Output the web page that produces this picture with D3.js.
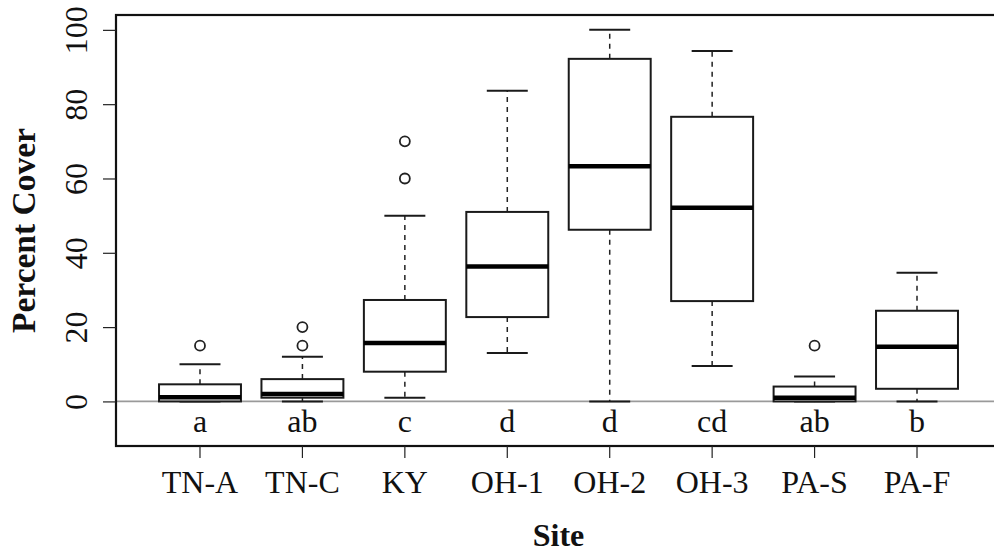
<!DOCTYPE html>
<html>
<head>
<meta charset="utf-8">
<script src="https://cdn.jsdelivr.net/npm/d3@7"></script>
<style>
  html, body { margin: 0; padding: 0; background: #fff; }
  svg { display: block; }
  text { font-family: "Liberation Serif", "Times New Roman", serif; fill: #111; }
</style>
</head>
<body>
<div id="chart"></div>
<script>
// sites and the significance letters under each box
const sites = ["TN-A", "TN-C", "KY", "OH-1", "OH-2", "OH-3", "PA-S", "PA-F"];
const letters = ["a", "ab", "c", "d", "d", "cd", "ab", "b"];

// box statistics (percent cover)
const whiskerLow  = [0, 0, 1, 13, 0, 9.5, 0, 0];
const quart1      = [0, 1, 8, 22.7, 46.2, 27, 0, 3.4];
const medians     = [1.1, 2, 15.7, 36.3, 63.3, 52.1, 1, 14.7];
const quart3      = [4.6, 6, 27.3, 51, 92.2, 76.6, 4, 24.4];
const whiskerHigh = [10, 12, 50, 83.6, 100, 94.3, 6.7, 34.6];
const outliers    = [[15], [15, 20], [60, 70], [], [], [], [15], []];

const yTicks = [0, 20, 40, 60, 80, 100];

const W = 994, H = 552;
const plot = { left: 116, top: 15, right: 1001, bottom: 446 };

const data = sites.map((s, i) => ({
    site: s,
    letter: letters[i],
    lo: whiskerLow[i],
    q1: quart1[i],
    med: medians[i],
    q3: quart3[i],
    hi: whiskerHigh[i],
    out: outliers[i]
}));

const svg = d3.select("#chart").append("svg")
    .attr("width", W)
    .attr("height", H);

const x = d3.scaleBand()
    .domain(sites)
    .range([plot.left, plot.right])
    .paddingInner(0.2)
    .paddingOuter(0.42);

const y = d3.scaleLinear()
    .domain([-12, 104])
    .range([plot.bottom, plot.top]);

const cx = d => x(d.site) + x.bandwidth() / 2;
const bw = x.bandwidth();

// zero reference line
svg.append("line")
    .attr("x1", plot.left).attr("x2", plot.right)
    .attr("y1", y(0)).attr("y2", y(0))
    .attr("stroke", "#9a9a9a")
    .attr("stroke-width", 1.6);

const g = svg.append("g").attr("class", "boxes");

const box = g.selectAll(".box")
    .data(data)
    .enter()
    .append("g")
    .attr("class", "box");

// whiskers (dashed)
box.append("line")
    .attr("x1", cx).attr("x2", cx)
    .attr("y1", d => y(d.q3)).attr("y2", d => y(d.hi))
    .attr("stroke", "#222")
    .attr("stroke-width", 1.5)
    .attr("stroke-dasharray", "5,5");
box.append("line")
    .attr("x1", cx).attr("x2", cx)
    .attr("y1", d => y(d.q1)).attr("y2", d => y(d.lo))
    .attr("stroke", "#222")
    .attr("stroke-width", 1.5)
    .attr("stroke-dasharray", "5,5");

// staples
box.selectAll(".staple")
    .data(d => [d.lo, d.hi].map(v => ({ c: cx(d), v })))
    .enter()
    .append("line")
    .attr("class", "staple")
    .attr("x1", s => s.c - bw / 4).attr("x2", s => s.c + bw / 4)
    .attr("y1", s => y(s.v)).attr("y2", s => y(s.v))
    .attr("stroke", "#1a1a1a")
    .attr("stroke-width", 2);

// boxes
box.append("rect")
    .attr("x", d => x(d.site))
    .attr("width", bw)
    .attr("y", d => y(d.q3))
    .attr("height", d => Math.max(0.5, y(d.q1) - y(d.q3)))
    .attr("fill", "#fff")
    .attr("stroke", "#1a1a1a")
    .attr("stroke-width", 2);

// medians
box.append("line")
    .attr("x1", d => x(d.site)).attr("x2", d => x(d.site) + bw)
    .attr("y1", d => y(d.med)).attr("y2", d => y(d.med))
    .attr("stroke", "#000")
    .attr("stroke-width", 4.5);

// outliers
box.selectAll(".outlier")
    .data(d => d.out.map(v => ({ c: cx(d), v })))
    .enter()
    .append("circle")
    .attr("class", "outlier")
    .attr("cx", o => o.c)
    .attr("cy", o => y(o.v))
    .attr("r", 5)
    .attr("fill", "none")
    .attr("stroke", "#222")
    .attr("stroke-width", 1.8);

// letters
g.selectAll(".letter")
    .data(data)
    .enter()
    .append("text")
    .attr("class", "letter")
    .attr("x", cx)
    .attr("y", 432)
    .attr("text-anchor", "middle")
    .style("font-size", "32px")
    .text(d => d.letter);

// frame
svg.append("rect")
    .attr("x", plot.left)
    .attr("y", plot.top)
    .attr("width", plot.right - plot.left)
    .attr("height", plot.bottom - plot.top)
    .attr("fill", "none")
    .attr("stroke", "#111")
    .attr("stroke-width", 2.2);

// x axis
const xAxis = svg.append("g")
    .attr("transform", `translate(0,${plot.bottom})`)
    .call(d3.axisBottom(x).tickSize(12).tickPadding(12));
xAxis.select(".domain").remove();
xAxis.selectAll("line").attr("stroke", "#222").attr("stroke-width", 1.2);
xAxis.selectAll("text")
    .style("font-size", "32px")
    .style("font-family", "'Liberation Serif', 'Times New Roman', serif")
    .attr("fill", "#111");

// y axis, labels parallel to the axis
const yAxis = svg.append("g")
    .attr("transform", `translate(${plot.left},0)`)
    .call(d3.axisLeft(y).tickValues(yTicks).tickSize(13));
yAxis.select(".domain").remove();
yAxis.selectAll("line").attr("stroke", "#222").attr("stroke-width", 1.2);
yAxis.selectAll("text")
    .attr("x", 0)
    .attr("y", 0)
    .attr("dy", 0)
    .attr("transform", "translate(-29,0) rotate(-90)")
    .attr("text-anchor", "middle")
    .attr("fill", "#111")
    .style("font-size", "32px")
    .style("font-family", "'Liberation Serif', 'Times New Roman', serif");

// axis titles
svg.append("text")
    .attr("transform", `translate(35,${(plot.top + plot.bottom) / 2}) rotate(-90)`)
    .attr("text-anchor", "middle")
    .style("font-size", "33.5px")
    .style("font-weight", "bold")
    .text("Percent Cover");

svg.append("text")
    .attr("x", (plot.left + plot.right) / 2)
    .attr("y", 546)
    .attr("text-anchor", "middle")
    .style("font-size", "32px")
    .style("font-weight", "bold")
    .text("Site");
</script>
</body>
</html>
